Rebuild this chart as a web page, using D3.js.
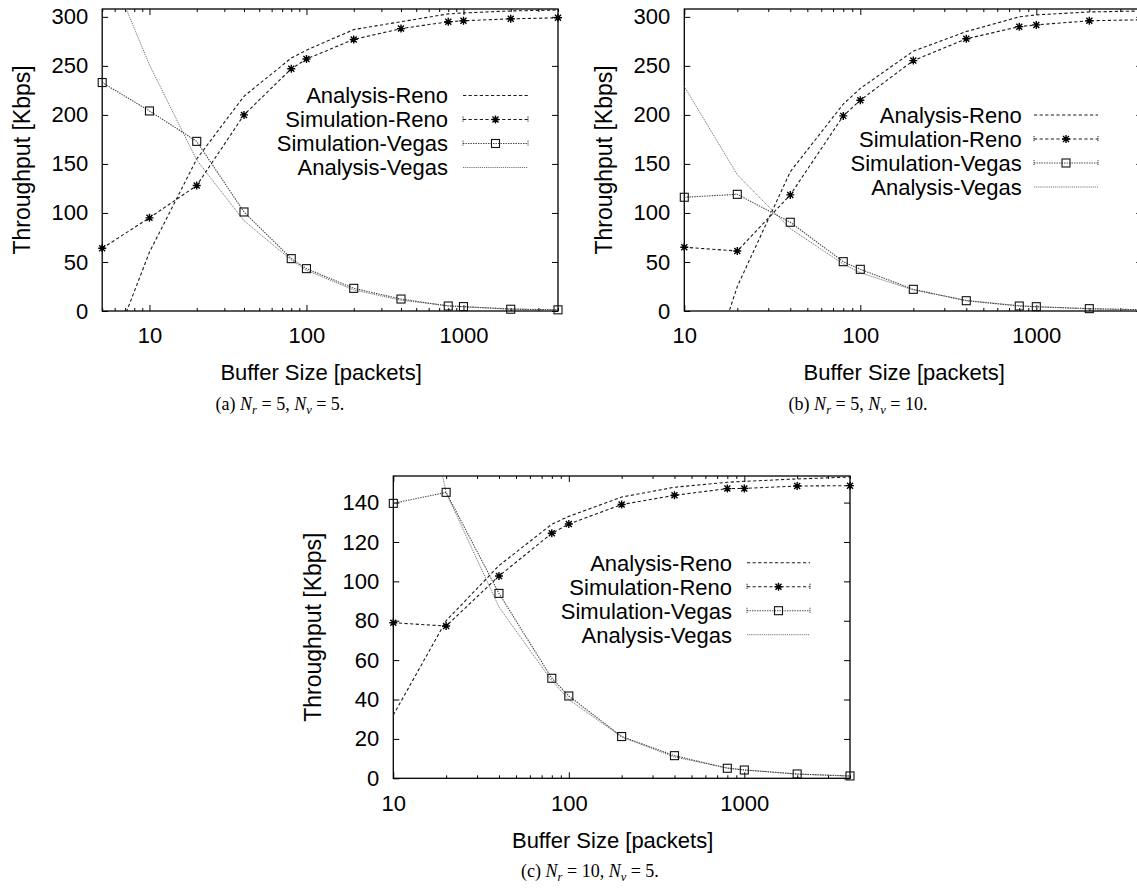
<!DOCTYPE html>
<html><head><meta charset="utf-8">
<script src="https://cdn.jsdelivr.net/npm/d3@7"></script>
<style>body{margin:0;background:#fff} svg{display:block}</style>
</head><body>
<svg id="chart" width="1137" height="888"></svg>
<script>
// ---------------- data ----------------
const buffersA = [5, 10, 20, 40, 80, 100, 200, 400, 800, 1000, 2000, 4000];
const buffersBC = [10, 20, 40, 80, 100, 200, 400, 800, 1000, 2000, 4000];

const seriesNames = ["Analysis-Reno", "Simulation-Reno", "Simulation-Vegas", "Analysis-Vegas"];

// panel (a) Nr = 5, Nv = 5
const aAnalysisReno   = [-65, 60, 155, 219, 258, 266, 287, 295, 303, 304, 306, 307];
const aSimulationReno = [64, 95, 128, 200, 247, 257, 277, 288, 295, 296, 298, 299];
const aSimulationVegas= [233, 204, 173, 101, 53.4, 43.2, 23.1, 12.2, 5.1, 4.5, 1.8, 1.2];
const aAnalysisVegas  = [367, 251, 154, 92, 52, 41.5, 21.5, 11, 5.4, 4.3, 2.2, 1.1];

// panel (b) Nr = 5, Nv = 10
const bAnalysisReno   = [-140, 25, 142, 211, 227, 265, 285, 300, 302, 305, 306];
const bSimulationReno = [65, 61.2, 118.4, 199, 215, 255.4, 277.6, 290, 291.8, 296, 297];
const bSimulationVegas= [116, 119, 90.5, 50.3, 42.5, 22.1, 10.5, 5.1, 4.4, 2.4, 1.3];
const bAnalysisVegas  = [229, 139, 84, 48, 39, 21.5, 10.8, 5.4, 4.3, 2.2, 1.1];

// panel (c) Nr = 10, Nv = 5
const cAnalysisReno   = [32.1, 80, 108, 129, 133, 142.8, 147.8, 150.3, 150.8, 152, 153];
const cSimulationReno = [79, 77.3, 102.7, 124.4, 129.1, 139, 143.7, 147.1, 147.2, 148.4, 148.6];
const cSimulationVegas= [139.6, 145.2, 93.9, 50.8, 41.8, 21.2, 11.5, 5.1, 4.2, 2.2, 1.2];
const cAnalysisVegas  = [270, 145, 87, 49.5, 40, 21, 10.8, 5.3, 4.3, 2.1, 1.1];

const yTicksAB = [0, 50, 100, 150, 200, 250, 300];
const yTicksC = [0, 20, 40, 60, 80, 100, 120, 140];
const xTickLabels = [10, 100, 1000];
const xMinorTicks = [5,6,7,8,9,20,30,40,50,60,70,80,90,200,300,400,500,600,700,800,900,2000,3000,4000];

const xTitle = "Buffer Size [packets]";
const yTitle = "Throughput [Kbps]";

// ---------------- layout ----------------
const panels = [
  { id:"a", buffers:buffersA, series:[aAnalysisReno,aSimulationReno,aSimulationVegas,aAnalysisVegas],
    xDomain:[5,4000], xRange:[102.2,558], yDomain:[0,308], yRange:[311,9], yTicks:yTicksAB,
    legText:448, legS1:463, legS2:528, legY:[95.5,119.5,143.5,167.5],
    capX:280, capY:410, capLetter:"(a) ", nr:"5", nv:"5", xTitleY:380, tickPad:16 },
  { id:"b", buffers:buffersBC, series:[bAnalysisReno,bSimulationReno,bSimulationVegas,bAnalysisVegas],
    xDomain:[10,4000], xRange:[684.3,1142.3], yDomain:[0,308], yRange:[311,9], yTicks:yTicksAB,
    legText:1021.7, legS1:1034, legS2:1098, legY:[115,139,163,187],
    capX:858, capY:410, capLetter:"(b) ", nr:"5", nv:"10", xTitleY:380, tickPad:16 },
  { id:"c", buffers:buffersBC, series:[cAnalysisReno,cSimulationReno,cSimulationVegas,cAnalysisVegas],
    xDomain:[10,4000], xRange:[393.3,850], yDomain:[0,153.5], yRange:[778.3,476], yTicks:yTicksC,
    legText:732, legS1:747, legS2:810, legY:[562.7,586.7,610.7,634.7],
    capX:590, capY:877, capLetter:"(c) ", nr:"10", nv:"5", xTitleY:848, tickPad:17 }
];

const styles = [
  { stroke:"#1a1a1a", dash:"3.2,2.4", width:1.1, marker:null },
  { stroke:"#1a1a1a", dash:"3.2,2.4", width:1.1, marker:"star" },
  { stroke:"#444", dash:"1.4,1.1", width:1.1, marker:"square" },
  { stroke:"#777", dash:"1.2,0.9", width:1.0, marker:null }
];

const FONT = "'Liberation Sans', Arial, Helvetica, sans-serif";
const SERIF = "'Liberation Serif', 'Times New Roman', Times, serif";
const svg = d3.select("#chart");

function drawMarker(g, type, cx, cy) {
  if (type === "star") {
    g.append("path").attr("d", "M-4,0H4M0,-4V4M-3,-3L3,3M-3,3L3,-3")
      .attr("transform", `translate(${cx},${cy})`)
      .attr("stroke", "#000").attr("stroke-width", 1.4).attr("fill", "none");
  } else if (type === "square") {
    g.append("rect").attr("x", cx - 4).attr("y", cy - 4).attr("width", 8).attr("height", 8)
      .attr("fill", "none").attr("stroke", "#111").attr("stroke-width", 1.1);
  }
}

panels.forEach(p => {
  const x = d3.scaleLog().domain(p.xDomain).range(p.xRange);
  const y = d3.scaleLinear().domain(p.yDomain).range(p.yRange);
  const L = p.xRange[0], R = p.xRange[1], T = p.yRange[1], B = p.yRange[0];
  const g = svg.append("g");

  g.append("clipPath").attr("id", "clip-" + p.id)
    .append("rect").attr("x", L).attr("y", T).attr("width", R - L).attr("height", B - T);

  const styleAxis = sel => {
    sel.select(".domain").remove();
    sel.selectAll(".tick line").attr("stroke", "#000").attr("stroke-width", 1);
    sel.selectAll("text").attr("font-family", FONT).attr("font-size", 22).attr("fill", "#000");
  };
  const minors = xMinorTicks.filter(v => v >= p.xDomain[0] && v <= p.xDomain[1]);
  g.append("g").attr("transform", `translate(0,${B})`)
    .call(d3.axisBottom(x).tickValues(xTickLabels).tickFormat(d3.format("d")).tickSize(-6).tickPadding(p.tickPad))
    .call(styleAxis);
  g.append("g").attr("transform", `translate(0,${B})`)
    .call(d3.axisBottom(x).tickValues(minors).tickFormat("").tickSize(-3))
    .call(styleAxis);
  g.append("g").attr("transform", `translate(0,${T})`)
    .call(d3.axisTop(x).tickValues(xTickLabels).tickFormat("").tickSize(-6))
    .call(styleAxis);
  g.append("g").attr("transform", `translate(0,${T})`)
    .call(d3.axisTop(x).tickValues(minors).tickFormat("").tickSize(-3))
    .call(styleAxis);
  g.append("g").attr("transform", `translate(${L},0)`)
    .call(d3.axisLeft(y).tickValues(p.yTicks).tickFormat(d3.format("d")).tickSize(-6).tickPadding(14))
    .call(styleAxis);
  g.append("g").attr("transform", `translate(${R},0)`)
    .call(d3.axisRight(y).tickValues(p.yTicks).tickFormat("").tickSize(-6))
    .call(styleAxis);

  g.append("rect").attr("x", L).attr("y", T).attr("width", R - L).attr("height", B - T)
    .attr("fill", "none").attr("stroke", "#000").attr("stroke-width", 1.3);

  const line = d3.line().x(d => x(d[0])).y(d => y(d[1]));
  const order = [3, 2, 0, 1];
  order.forEach(si => {
    const st = styles[si];
    const pts = p.buffers.map((b, i) => [b, p.series[si][i]]);
    g.append("path").attr("d", line(pts)).attr("clip-path", `url(#clip-${p.id})`)
      .attr("fill", "none").attr("stroke", st.stroke).attr("stroke-width", st.width)
      .attr("stroke-dasharray", st.dash);
  });
  order.forEach(si => {
    const st = styles[si];
    if (!st.marker) return;
    p.buffers.forEach((b, i) => drawMarker(g, st.marker, x(b), y(p.series[si][i])));
  });

  seriesNames.forEach((name, si) => {
    const st = styles[si];
    const ly = p.legY[si];
    g.append("text").attr("x", p.legText).attr("y", ly).attr("dy", "0.36em")
      .attr("text-anchor", "end").attr("font-family", FONT).attr("font-size", 22).attr("fill", "#000")
      .text(name);
    g.append("line").attr("x1", p.legS1).attr("x2", p.legS2).attr("y1", ly).attr("y2", ly)
      .attr("stroke", st.stroke).attr("stroke-width", st.width).attr("stroke-dasharray", st.dash);
    if (st.marker) {
      [p.legS1, p.legS2].forEach(ex => g.append("line").attr("x1", ex).attr("x2", ex)
        .attr("y1", ly - 3).attr("y2", ly + 3).attr("stroke", st.stroke).attr("stroke-width", 1)
        .attr("stroke-dasharray", "1.2,0.8"));
      drawMarker(g, st.marker, (p.legS1 + p.legS2) / 2, ly);
    }
  });

  g.append("text").attr("x", (L + R) / 2 - 9).attr("y", p.xTitleY).attr("text-anchor", "middle")
    .attr("font-family", FONT).attr("font-size", 22).attr("fill", "#000").text(xTitle);
  g.append("text").attr("transform", `translate(${L - 72},${(T + B) / 2}) rotate(-90)`)
    .attr("text-anchor", "middle").attr("font-family", FONT).attr("font-size", 23).attr("fill", "#000")
    .text(yTitle);

  const cap = g.append("text").attr("x", p.capX).attr("y", p.capY).attr("text-anchor", "middle")
    .attr("font-family", SERIF).attr("font-size", 18).attr("fill", "#000");
  cap.append("tspan").text(p.capLetter);
  cap.append("tspan").attr("font-style", "italic").text("N");
  cap.append("tspan").attr("font-style", "italic").attr("font-size", 12.5).attr("dy", 3.5).text("r");
  cap.append("tspan").attr("dy", -3.5).text(" = " + p.nr + ", ");
  cap.append("tspan").attr("font-style", "italic").text("N");
  cap.append("tspan").attr("font-style", "italic").attr("font-size", 12.5).attr("dy", 3.5).text("v");
  cap.append("tspan").attr("dy", -3.5).text(" = " + p.nv + ".");
});
</script>
</body></html>
